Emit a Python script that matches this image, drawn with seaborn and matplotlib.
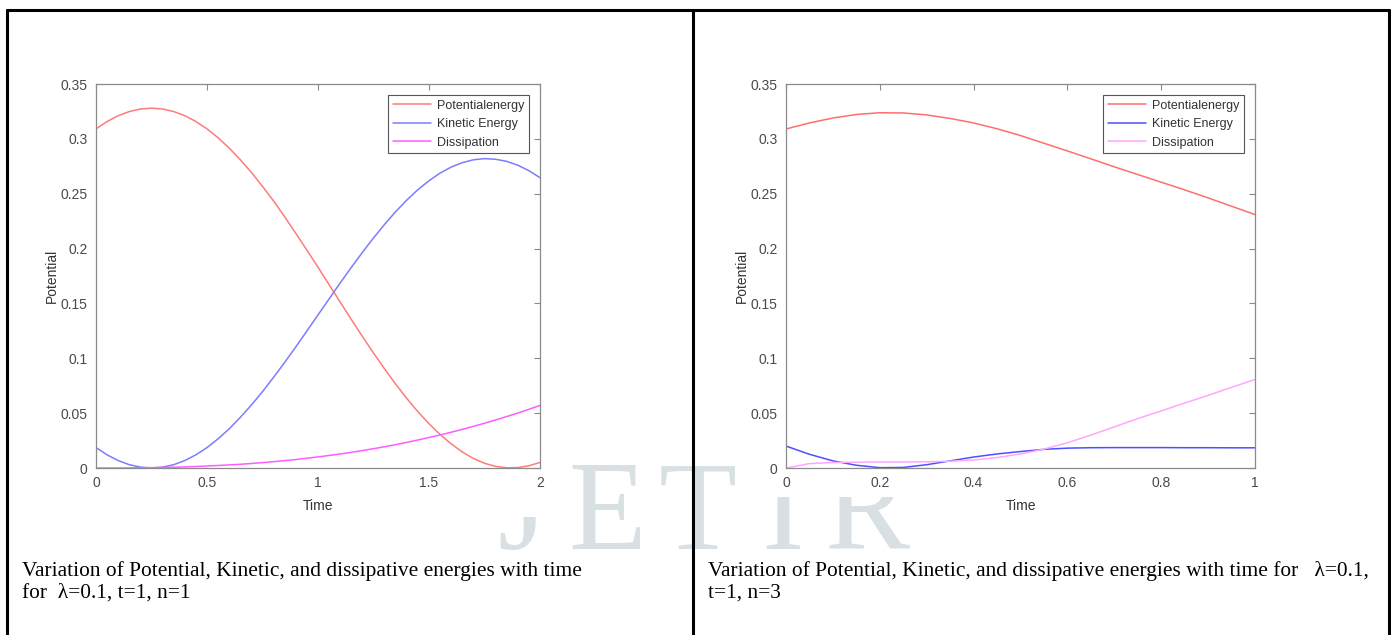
import numpy as np
import pandas as pd
import matplotlib
matplotlib.use("Agg")
import matplotlib.pyplot as plt
import seaborn as sns
from matplotlib.lines import Line2D
from matplotlib.patches import Rectangle

# ---- left panel: lambda=0.1, t=1, n=1 (time 0..2)
time_n1 = [0.0, 0.05, 0.1, 0.15, 0.2, 0.25, 0.3, 0.35, 0.4, 0.45, 0.5,
           0.55, 0.6, 0.65, 0.7, 0.75, 0.8, 0.85, 0.9, 0.95, 1.0,
           1.05, 1.1, 1.15, 1.2, 1.25, 1.3, 1.35, 1.4, 1.45, 1.5,
           1.55, 1.6, 1.65, 1.7, 1.75, 1.8, 1.85, 1.9, 1.95, 2.0]
potential_n1 = [0.3091, 0.3158, 0.3211, 0.3249, 0.3272, 0.3280, 0.3272, 0.3249,
                0.3211, 0.3158, 0.3091, 0.3010, 0.2916, 0.2810, 0.2694, 0.2567,
                0.2434, 0.2289, 0.2139, 0.1986, 0.1830, 0.1671, 0.1512, 0.1354,
                0.1199, 0.1048, 0.0903, 0.0764, 0.0634, 0.0513, 0.0404, 0.0305,
                0.0220, 0.0146, 0.0087, 0.0043, 0.0015, 0.0002, 0.0004, 0.0020,
                0.0051]
kinetic_n1 = [0.0186, 0.0120, 0.0068, 0.0030, 0.0008, 0.0000, 0.0008, 0.0030,
              0.0068, 0.0120, 0.0186, 0.0266, 0.0357, 0.0461, 0.0574, 0.0696,
              0.0827, 0.0963, 0.1104, 0.1249, 0.1395, 0.1541, 0.1687, 0.1828,
              0.1965, 0.2097, 0.2221, 0.2337, 0.2442, 0.2537, 0.2618, 0.2688,
              0.2743, 0.2783, 0.2809, 0.2820, 0.2814, 0.2795, 0.2760, 0.2710,
              0.2646]
dissipation_n1 = [0.0, 0.0000, 0.0000, 0.0001, 0.0002, 0.0003, 0.0005, 0.0007,
                  0.0010, 0.0014, 0.0018, 0.0023, 0.0028, 0.0034, 0.0041, 0.0049,
                  0.0058, 0.0067, 0.0077, 0.0089, 0.0101, 0.0114, 0.0128, 0.0143,
                  0.0159, 0.0176, 0.0194, 0.0213, 0.0234, 0.0255, 0.0278, 0.0301,
                  0.0326, 0.0352, 0.0380, 0.0408, 0.0438, 0.0469, 0.0501, 0.0535,
                  0.0570]

# ---- right panel: lambda=0.1, t=1, n=3 (time 0..1)
time_n3 = [0.0, 0.05, 0.1, 0.15, 0.2, 0.25, 0.3, 0.35, 0.4, 0.45, 0.5,
           0.55, 0.6, 0.65, 0.7, 0.75, 0.8, 0.85, 0.9, 0.95, 1.0]
potential_n3 = [0.3090, 0.3145, 0.3190, 0.3222, 0.3238, 0.3236, 0.3218, 0.3186,
                0.3145, 0.3092, 0.3030, 0.2960, 0.2890, 0.2818, 0.2745, 0.2675,
                0.2605, 0.2535, 0.2462, 0.2386, 0.2310]
kinetic_n3 = [0.0200, 0.0125, 0.0065, 0.0025, 0.0003, 0.0005, 0.0030, 0.0065,
              0.0100, 0.0128, 0.0150, 0.0170, 0.0181, 0.0185, 0.0186, 0.0186,
              0.0186, 0.0185, 0.0185, 0.0184, 0.0184]
dissipation_n3 = [0.0, 0.0040, 0.0050, 0.0053, 0.0055, 0.0055, 0.0056, 0.0062,
                  0.0073, 0.0095, 0.0128, 0.0172, 0.0230, 0.0300, 0.0375, 0.0450,
                  0.0520, 0.0592, 0.0662, 0.0735, 0.0807]

series_names = ["Potentialenergy", "Kinetic Energy", "Dissipation"]
captions = [
    "Variation of Potential, Kinetic, and dissipative energies with time\nfor  \u03bb=0.1, t=1, n=1",
    "Variation of Potential, Kinetic, and dissipative energies with time for   \u03bb=0.1,\nt=1, n=3",
]
yticks = [0, 0.05, 0.1, 0.15, 0.2, 0.25, 0.3, 0.35]
ytick_labels = ["0", "0.05", "0.1", "0.15", "0.2", "0.25", "0.3", "0.35"]
watermark = ["J", "E", "T", "I", "R"]

sns.set_style("white")
plt.rcParams["font.family"] = ["Liberation Sans", "DejaVu Sans"]

fig = plt.figure(figsize=(13.91, 6.35), dpi=100)

# faint watermark behind everything
for letter, px in zip(watermark, [522, 607, 698, 783, 867]):
    fig.text(px / 1391, 1 - 549 / 635, letter, fontsize=92, family="Liberation Serif",
             color="#d8e0e4", ha="center", va="baseline", zorder=-5)

# white backgrounds of the two pasted figure images (they hide part of the watermark)
for x0, x1, y1 in [(20, 560, 517), (740, 1290, 497)]:
    fig.add_artist(Rectangle((x0 / 1391, 1 - y1 / 635), (x1 - x0) / 1391, (y1 - 40) / 635,
                             transform=fig.transFigure, facecolor="white",
                             edgecolor="none", zorder=-4))

# table borders
for xs, ys in [([7 / 1391, 1389 / 1391], [1 - 10 / 635] * 2),
               ([7 / 1391] * 2, [0, 1 - 10 / 635]),
               ([693 / 1391] * 2, [0, 1 - 10 / 635]),
               ([1389 / 1391] * 2, [0, 1 - 10 / 635])]:
    fig.add_artist(Line2D(xs, ys, color="black", lw=2.2, transform=fig.transFigure))

panels = [
    dict(pos=[96 / 1391, 1 - 468 / 635, 444 / 1391, 384 / 635],
         t=time_n1, ys=[potential_n1, kinetic_n1, dissipation_n1],
         colors=["#ff7b7b", "#7c7cff", "#ff5cff"], xlim=(0, 2),
         xticks=[0, 0.5, 1, 1.5, 2], xlabels=["0", "0.5", "1", "1.5", "2"],
         cap_x=22 / 1391),
    dict(pos=[786 / 1391, 1 - 468 / 635, 469 / 1391, 384 / 635],
         t=time_n3, ys=[potential_n3, kinetic_n3, dissipation_n3],
         colors=["#ff6e6e", "#4f4fff", "#ffa6ff"], xlim=(0, 1),
         xticks=[0, 0.2, 0.4, 0.6, 0.8, 1], xlabels=["0", "0.2", "0.4", "0.6", "0.8", "1"],
         cap_x=708 / 1391),
]

for p, cap in zip(panels, captions):
    ax = fig.add_axes(p["pos"])
    ax.set_facecolor("none")
    for name, vals, c in zip(series_names, p["ys"], p["colors"]):
        sns.lineplot(x=p["t"], y=vals, ax=ax, color=c, lw=1.1, label=name)
    ax.set_xlim(*p["xlim"])
    ax.set_ylim(0, 0.35)
    ax.set_xticks(p["xticks"], p["xlabels"])
    ax.set_yticks(yticks, ytick_labels)
    ax.tick_params(direction="in", length=4, width=0.8, colors="#8a8a8a",
                   labelcolor="#4a4a4a", labelsize=10, top=True, right=True, pad=6)
    for s in ax.spines.values():
        s.set_color("#8a8a8a")
        s.set_linewidth(0.9)
    ax.set_xlabel("Time", fontsize=10, color="#333333", labelpad=6)
    ax.set_ylabel("Potential", fontsize=10, color="#333333", labelpad=1)
    leg = ax.legend(loc="upper right", fontsize=9, frameon=True, fancybox=False,
                    edgecolor="#555555", framealpha=1, handlelength=3.1,
                    borderaxespad=0.9, borderpad=0.35, labelspacing=0.52,
                    handletextpad=0.45)
    leg.get_frame().set_linewidth(0.8)
    for txt in leg.get_texts():
        txt.set_color("#333333")
    fig.text(p["cap_x"], 1 - 561 / 635, cap, fontsize=15.4, family="Liberation Serif",
             color="black", ha="left", va="top", linespacing=1.2)

fig.savefig("out.png", dpi=100)
